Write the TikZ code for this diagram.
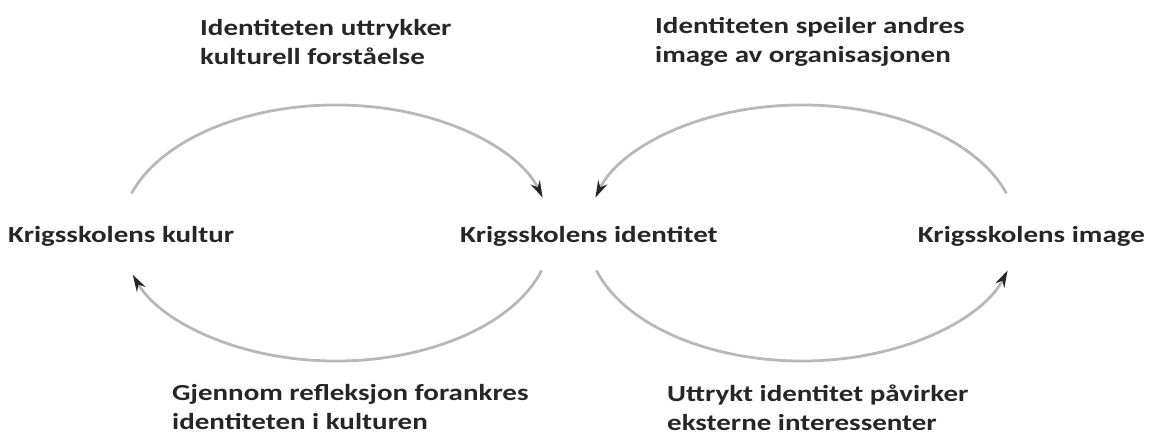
\documentclass[tikz,border=0pt]{standalone}
\usepackage{fontspec}
\setmainfont{Carlito}[FakeStretch=1.26]
\usetikzlibrary{arrows.meta,calc}
\begin{document}
\begin{tikzpicture}[x=1pt,y=1pt,
  lbl/.style={font=\bfseries\fontsize{23}{29}\selectfont, inner sep=0pt, align=left, text=black!85},
  conn/.style={line width=2.8pt, draw=black!28, -{Stealth[length=17pt,width=10pt,color=black!85]}},
  ell/.style={x radius=215, y radius=128}]
\useasboundingbox (0,0) rectangle (1152,-436);
% main nodes
\node[lbl, anchor=base west] (kultur) at (8,-242) {Krigsskolens kultur};
\node[lbl, anchor=base west] (identitet) at (460,-242) {Krigsskolens identitet};
\node[lbl, anchor=base east] (image) at (1145,-242) {Krigsskolens image};
% labels
\node[lbl, anchor=west] (l1) at (200,-42) {Identiteten uttrykker\\kulturell forståelse};
\node[lbl, anchor=west] (l2) at (655,-42) {Identiteten speiler andres\\image av organisasjonen};
\node[lbl, anchor=west] (l3) at (172,-407) {Gjennom refleksjon forankres\\identiteten i kulturen};
\node[lbl, anchor=west] (l4) at (667,-408) {Uttrykt identitet påvirker\\eksterne interessenter};
% ellipse centres
\coordinate (L) at (336,-233);
\coordinate (R) at (802,-233);
% arc start points
\coordinate (a1) at ($(L)+(162:215 and 128)$);
\coordinate (a2) at ($(L)+(-17:215 and 128)$);
\coordinate (a3) at ($(R)+(18:215 and 128)$);
\coordinate (a4) at ($(R)+(197:215 and 128)$);
% connectors
\draw[conn] (a1) arc[start angle=162, end angle=16, ell];
\draw[conn] (a2) arc[start angle=-17, end angle=-161, ell];
\draw[conn] (a3) arc[start angle=18, end angle=164, ell];
\draw[conn] (a4) arc[start angle=197, end angle=343, ell];
\end{tikzpicture}
\end{document}
